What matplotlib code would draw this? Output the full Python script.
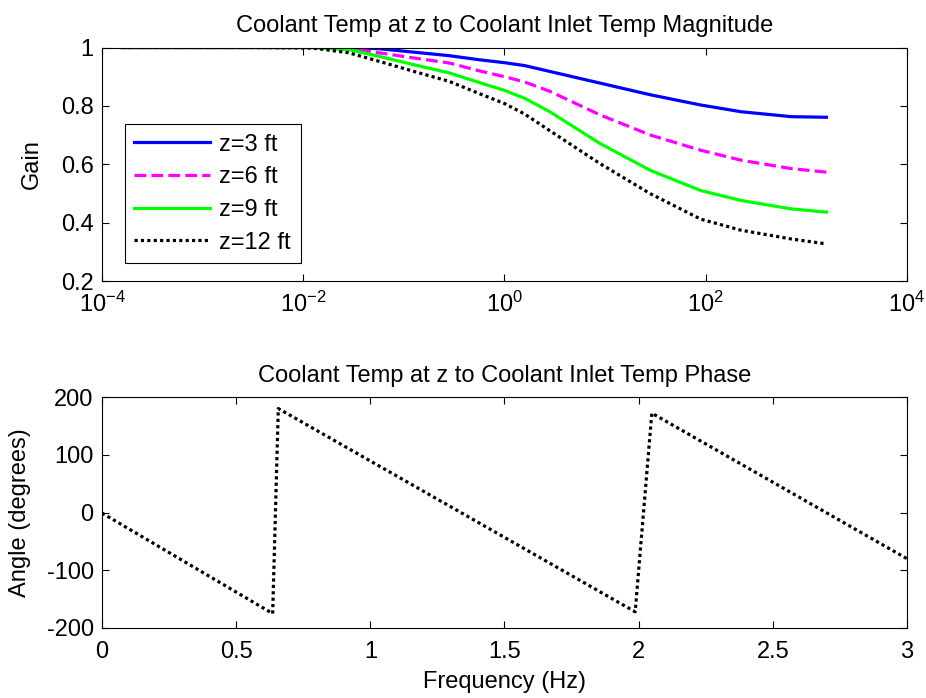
import numpy as np
import matplotlib
matplotlib.use("Agg")
import matplotlib.pyplot as plt
from matplotlib.ticker import FixedLocator, FixedFormatter, NullLocator

plt.rcParams['font.family'] = ['Liberation Sans', 'DejaVu Sans']
plt.rcParams['mathtext.fontset'] = 'custom'
plt.rcParams['mathtext.rm'] = 'Liberation Sans'
plt.rcParams['axes.unicode_minus'] = False
FS = 17

# ---- magnitude data (log10 of frequency, gain per axial position) ----
log_freq = [-3.8, -2.5, -1.9, -1.55, -1.25, -0.9, -0.55, -0.25, 0.0, 0.2, 0.45,
            0.95, 1.45, 1.95, 2.35, 2.85, 3.2]
gain_z3 = [1.0, 1.0, 1.0, 0.999, 0.996, 0.984, 0.972, 0.958, 0.948, 0.938, 0.918,
           0.878, 0.838, 0.803, 0.780, 0.763, 0.761]
gain_z6 = [1.0, 1.0, 1.0, 0.998, 0.982, 0.964, 0.947, 0.920, 0.900, 0.882, 0.850,
           0.769, 0.700, 0.648, 0.614, 0.585, 0.573]
gain_z9 = [1.0, 1.0, 1.0, 0.993, 0.970, 0.941, 0.913, 0.880, 0.853, 0.826, 0.780,
           0.671, 0.579, 0.510, 0.476, 0.447, 0.436]
gain_z12 = [1.0, 1.0, 0.998, 0.982, 0.953, 0.918, 0.884, 0.842, 0.808, 0.772, 0.715,
            0.602, 0.499, 0.412, 0.374, 0.344, 0.327]
series_labels = ['z=3 ft', 'z=6 ft', 'z=9 ft', 'z=12 ft']

# ---- phase data (z = 12 ft), wrapped to [-180, 180] ----
phase_freq = [0.0, 0.636, 0.657, 1.987, 2.049, 3.0]
phase_deg = [-1, -175, 180, -172, 172, -80]

# ---- tick labels ----
mag_xticks = [1e-4, 1e-2, 1e0, 1e2, 1e4]
mag_xticklabels = [r'$\mathregular{10^{-4}}$', r'$\mathregular{10^{-2}}$',
                   r'$\mathregular{10^{0}}$', r'$\mathregular{10^{2}}$',
                   r'$\mathregular{10^{4}}$']
mag_yticks = [0.2, 0.4, 0.6, 0.8, 1.0]
mag_yticklabels = ['0.2', '0.4', '0.6', '0.8', '1']
ph_xticks = [0, 0.5, 1, 1.5, 2, 2.5, 3]
ph_xticklabels = ['0', '0.5', '1', '1.5', '2', '2.5', '3']
ph_yticks = [-200, -100, 0, 100, 200]

W, H = 926, 698
fig = plt.figure(figsize=(W / 100, H / 100), dpi=100)

def px_axes(x0, y0, x1, y1):
    return fig.add_axes([x0 / W, 1 - y1 / H, (x1 - x0) / W, (y1 - y0) / H])

def matlab_style(ax, xpad):
    ax.tick_params(which='both', direction='in', top=True, right=True,
                   length=5, width=0.8, labelsize=FS)
    ax.tick_params(axis='x', pad=xpad)
    ax.tick_params(axis='y', pad=6)
    for s in ax.spines.values():
        s.set_linewidth(0.8)

LW = 2.3

# ---- magnitude axes ----
ax1 = px_axes(102, 47.5, 907, 281)
freq = 10.0 ** np.array(log_freq)
ax1.semilogx(freq, gain_z3, color=(0, 0, 1), lw=LW, label=series_labels[0])
ax1.semilogx(freq, gain_z6, color=(1, 0, 1), lw=LW, dashes=(3.7, 1.6), label=series_labels[1])
ax1.semilogx(freq, gain_z9, color=(0, 1, 0), lw=LW, label=series_labels[2])
ax1.semilogx(freq, gain_z12, color='black', lw=LW, dashes=(1, 1), label=series_labels[3])
ax1.set_xlim(1e-4, 1e4)
ax1.set_ylim(0.2, 1.0)
ax1.xaxis.set_major_locator(FixedLocator(mag_xticks))
ax1.xaxis.set_major_formatter(FixedFormatter(mag_xticklabels))
ax1.xaxis.set_minor_locator(NullLocator())
ax1.set_yticks(mag_yticks)
ax1.set_yticklabels(mag_yticklabels)
ax1.set_ylabel('Gain', fontsize=FS, va='center')
ax1.yaxis.set_label_coords(-0.087, 0.5)
ax1.set_title('Coolant Temp at z to Coolant Inlet Temp Magnitude', fontsize=FS, pad=11)
matlab_style(ax1, xpad=8)
leg = ax1.legend(loc='lower left', bbox_to_anchor=(0.0286, 0.077), borderaxespad=0,
                 fontsize=FS, handlelength=3.2, handletextpad=0.4,
                 labelspacing=0.45, borderpad=0.4, fancybox=False, framealpha=1)
leg.get_frame().set_edgecolor('black')
leg.get_frame().set_linewidth(0.8)

# ---- phase axes ----
ax2 = px_axes(102, 397, 907, 628)
ax2.plot(phase_freq, phase_deg, color='black', lw=LW, dashes=(1, 1))
ax2.set_xlim(0, 3)
ax2.set_ylim(-200, 200)
ax2.set_xticks(ph_xticks)
ax2.set_xticklabels(ph_xticklabels)
ax2.set_yticks(ph_yticks)
ax2.set_xlabel('Frequency (Hz)', fontsize=FS, va='center')
ax2.xaxis.set_label_coords(0.5, -0.234)
ax2.set_ylabel('Angle (degrees)', fontsize=FS, va='center')
ax2.yaxis.set_label_coords(-0.102, 0.5)
ax2.set_title('Coolant Temp at z to Coolant Inlet Temp Phase', fontsize=FS, pad=11)
matlab_style(ax2, xpad=9)

fig.savefig('out.png', dpi=100)
